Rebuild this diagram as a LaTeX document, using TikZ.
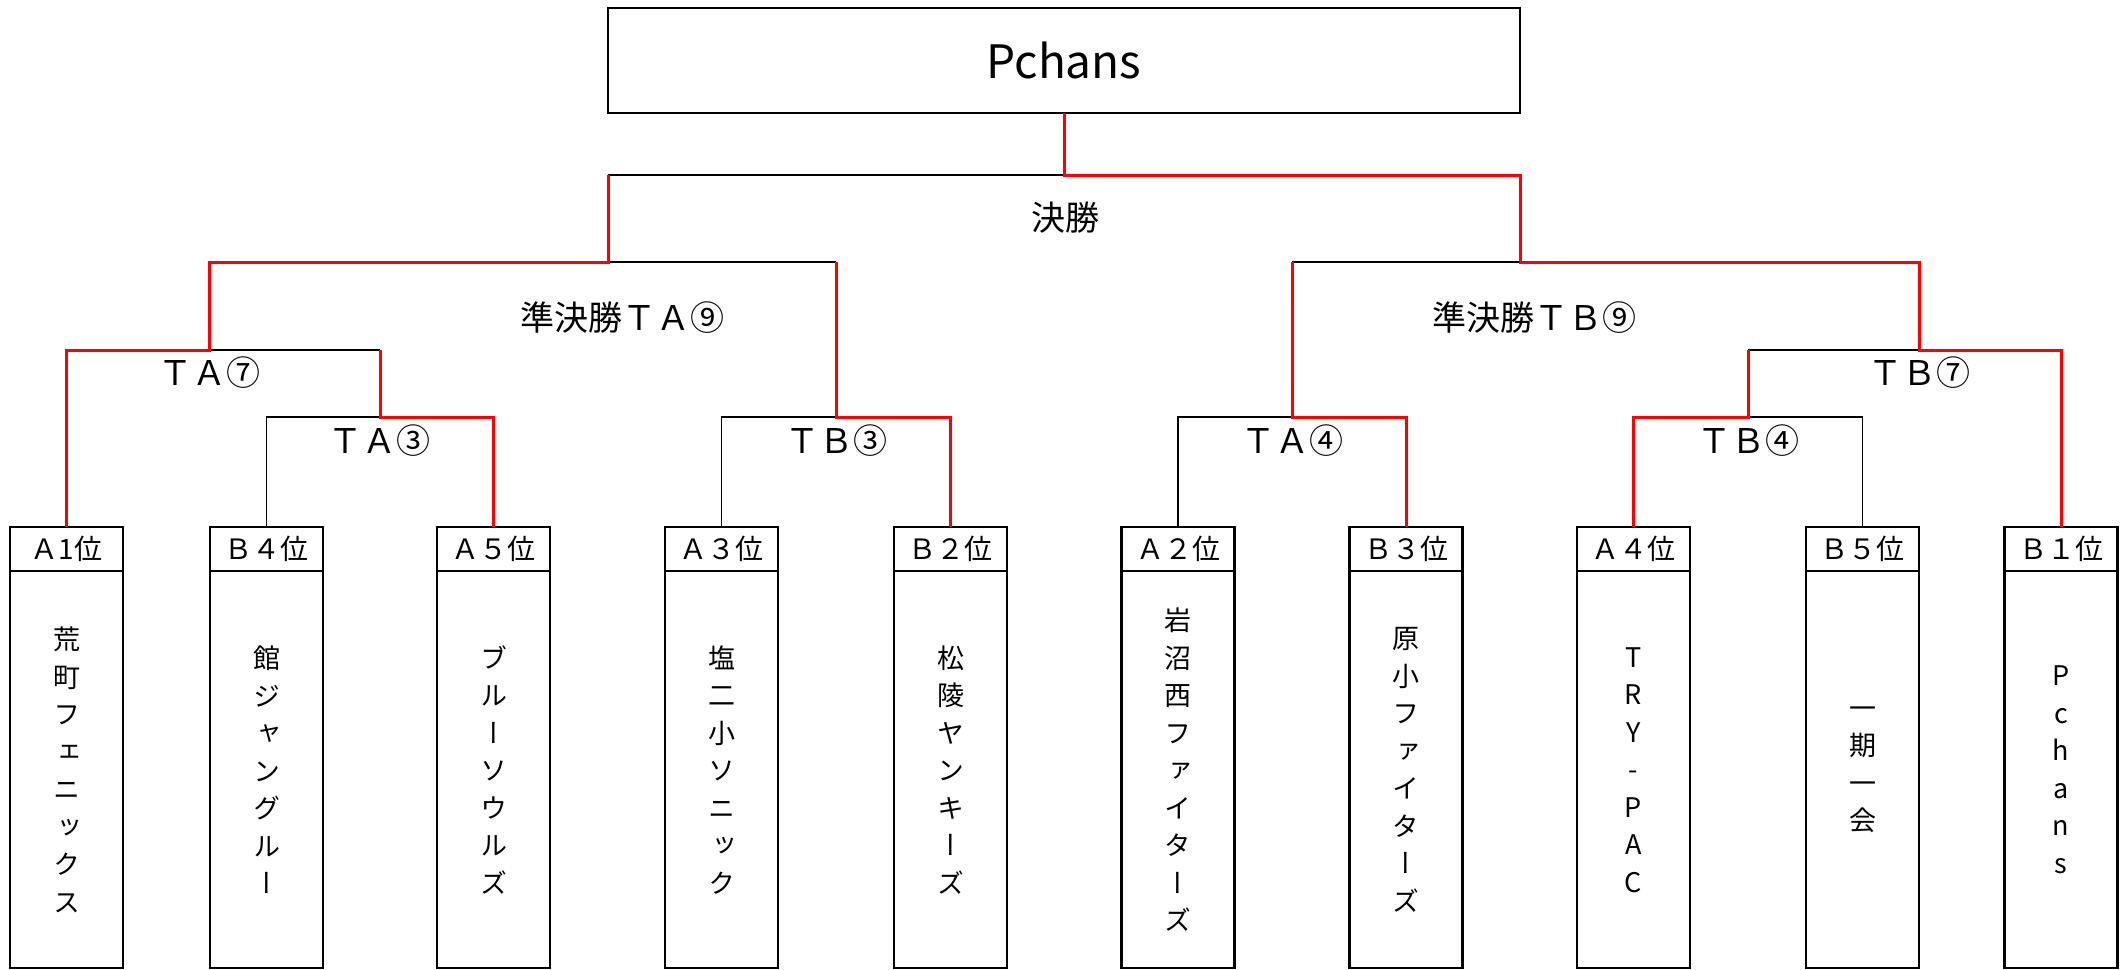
\documentclass[tikz,border=0pt]{standalone}
\usepackage{fontspec}
\setmainfont{Noto Sans CJK JP}
\newfontfamily\vjp[RawFeature=+vert]{Noto Sans CJK JP}
\tikzset{
  redline/.style={draw=red, line width=3pt},
  thinline/.style={draw=black, line width=1.2pt},
  champbox/.style={draw, line width=2.5pt, minimum width=912pt, minimum height=105pt, inner sep=0pt, outer sep=0pt, font=\fontsize{46}{55}\selectfont},
  tbox/.style={draw, line width=2.2pt, minimum width=113pt, minimum height=441pt, inner sep=0pt, outer sep=0pt},
  thead/.style={inner sep=0pt, font=\fontsize{28}{34}\selectfont},
  tbody/.style={inner sep=0pt, align=center, font=\vjp\fontsize{27}{37.5}\selectfont},
  lbl/.style={inner sep=0pt, font=\fontsize{34}{40}\selectfont},
  divline/.style={draw, line width=1.3pt},
}
\newcommand\teamentry[4]{%
  \node[tbox] (#1) at (#2,747.5) {};
  \node[thead] (#1h) at (#2,549) {#3};
  \node[tbody] (#1t) at (#2,770) {#4};
  \draw[divline] (#1.west) ++(0,-176.5) -- ++(113,0);
}
\begin{document}
\begin{tikzpicture}[x=1pt,y=-1pt]
\fill[white] (0,0) rectangle (2125,969);
\useasboundingbox (0,0) rectangle (2125,969);

% junction coordinates
\coordinate (tA3) at (380,417);
\coordinate (tA7) at (209,350);
\coordinate (tB3) at (836,417);
\coordinate (sA) at (608,262);
\coordinate (fL) at (608,175);
\coordinate (fR) at (1520,175);
\coordinate (sB) at (1520,262);
\coordinate (tA4) at (1292,417);
\coordinate (tB7) at (1919,350);
\coordinate (tB4) at (1748,417);

\node[champbox] (champ) at (1064,60.5) {Pchans};

\teamentry{b1}{66.5}{Ａ1位}{荒\\町\\フ\\ェ\\ニ\\ッ\\ク\\ス}
\teamentry{b2}{266.5}{Ｂ４位}{館\\ジ\\ャ\\ン\\グ\\ル\\ー}
\teamentry{b3}{493.5}{Ａ５位}{ブ\\ル\\ー\\ソ\\ウ\\ル\\ズ}
\teamentry{b4}{721.5}{Ａ３位}{塩\\二\\小\\ソ\\ニ\\ッ\\ク}
\teamentry{b5}{950.5}{Ｂ２位}{松\\陵\\ヤ\\ン\\キ\\ー\\ズ}
\teamentry{b6}{1178}{Ａ２位}{岩\\沼\\西\\フ\\ァ\\イ\\タ\\ー\\ズ}
\teamentry{b7}{1406}{Ｂ３位}{原\\小\\フ\\ァ\\イ\\タ\\ー\\ズ}
\teamentry{b8}{1633.5}{Ａ４位}{T\\R\\Y\\-\\P\\A\\C}
\teamentry{b9}{1862.5}{Ｂ５位}{一\\期\\一\\会}
\teamentry{b10}{2061}{Ｂ１位}{P\\c\\h\\a\\n\\s}

% black (losing) connectors
\draw[thinline] (b2.north) |- (tA3);
\draw[thinline] (tA7) -- (tA3 |- tA7);
\draw[thinline] (b4.north) |- (tB3);
\draw[thinline] (sA) -- (tB3 |- sA);
\draw[thinline] (fL) -- (champ.south |- fL);
\draw[thinline] (tA4 |- sB) -- (sB);
\draw[thinline] (b6.north) |- (tA4);
\draw[thinline] (tB4 |- tB7) -- (tB7);
\draw[thinline] (b9.north) |- (tB4);

% red (winning) connectors
\draw[redline] (b1.north) |- (tA7) |- (sA) -- (fL);
\draw[redline] (b3.north) |- (tA3) -- (tA3 |- tA7);
\draw[redline] (b5.north) |- (tB3) -- (tB3 |- sA);
\draw[redline] (b7.north) |- (tA4) -- (tA4 |- sB);
\draw[redline] (b8.north) |- (tB4) -- (tB4 |- tB7);
\draw[redline] (b10.north) |- (tB7) |- (sB) -- (fR) -| (champ.south);

% match labels
\node[lbl] (lF) at (1065,218) {決勝};
\node[lbl] (lSA) at (622,318) {準決勝ＴＡ⑨};
\node[lbl] (lSB) at (1534,318) {準決勝ＴＢ⑨};
\node[lbl] (lA7) at (209,373) {ＴＡ⑦};
\node[lbl] (lA3) at (379,441) {ＴＡ③};
\node[lbl] (lB3) at (836,441) {ＴＢ③};
\node[lbl] (lA4) at (1292,441) {ＴＡ④};
\node[lbl] (lB4) at (1748,441) {ＴＢ④};
\node[lbl] (lB7) at (1919,373) {ＴＢ⑦};
\end{tikzpicture}
\end{document}
